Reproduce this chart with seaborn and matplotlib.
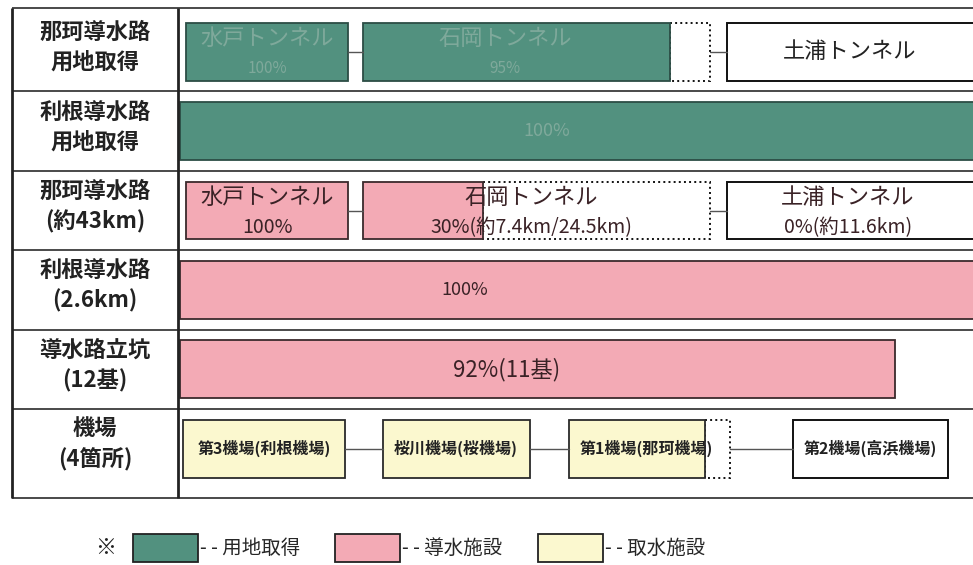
import matplotlib
matplotlib.use("Agg")
import matplotlib.pyplot as plt
from matplotlib.patches import Patch
import seaborn as sns

# row headers (left column)
row_labels = [
    "那珂導水路\n用地取得",
    "利根導水路\n用地取得",
    "那珂導水路\n(約43km)",
    "利根導水路\n(2.6km)",
    "導水路立坑\n(12基)",
    "機場\n(4箇所)",
]

# segments of the schematic (x in schematic units along each row)
seg_row = [0, 0, 0, 1, 2, 2, 2, 3, 4, 5, 5, 5, 5]
seg_name = ["水戸トンネル", "石岡トンネル", "土浦トンネル", "",
            "水戸トンネル", "石岡トンネル", "土浦トンネル", "", "",
            "第3機場(利根機場)", "桜川機場(桜機場)", "第1機場(那珂機場)", "第2機場(高浜機場)"]
seg_note = ["100%", "95%", "", "100%",
            "100%", "30%(約7.4km/24.5km)", "0%(約11.6km)", "100%", "92%(11基)",
            "", "", "", ""]
seg_start = [8, 185, 549, 2, 8, 185, 549, 2, 2, 5, 205, 391, 615]
seg_end = [170, 532, 800, 800, 170, 532, 800, 800, 717, 167, 352, 552, 770]
seg_done = [170, 492, 549, 800, 170, 305, 549, 800, 717, 167, 352, 527, 615]
seg_kind = ["用地取得"] * 4 + ["導水施設"] * 5 + ["取水施設"] * 4

# where each label sits along the row
label_x = [89, 327, 672, 369, 89, 353, 670, 287, 329, 86, 278, 468, 692]

kinds = ["用地取得", "導水施設", "取水施設"]
fill_colors = {"用地取得": "#52917f", "導水施設": "#f3aab5", "取水施設": "#fbf8cf"}
edge_colors = {"用地取得": "#2c4d45", "導水施設": "#3a2a2c", "取水施設": "#2a2a2a"}

sns.set_theme(style="white")
plt.rcParams["font.family"] = ["Noto Sans CJK JP", "DejaVu Sans"]

fig = plt.figure(figsize=(9.73, 5.65), dpi=100)
ax = fig.add_axes([178 / 973, (565 - 498) / 565, (973 - 178) / 973, 490 / 565])
ax.set_xlim(0, 795)
ax.set_ylim(5.62, -0.55)
ax.axis("off")

bar_h = 0.73
ink = "#222222"

# table lines
sep_y = [-0.55, 0.5, 1.5, 2.5, 3.5, 4.5, 5.62]
ax.hlines(sep_y, -166, 795, color="#4a4a4a", lw=1.4, clip_on=False)
ax.vlines([-166, 0], -0.55, 5.62, color=ink, lw=2, clip_on=False)

for i, lab in enumerate(row_labels):
    ax.text(-83, i - 0.05, lab, ha="center", va="center", fontsize=16,
            fontweight="bold", color=ink, linespacing=1.37, clip_on=False)

# connectors between consecutive segments in the same row
for i in range(len(seg_row) - 1):
    if seg_row[i] == seg_row[i + 1]:
        ax.plot([seg_end[i], seg_start[i + 1]], [seg_row[i], seg_row[i]],
                color="#555555", lw=1)

for i in range(len(seg_row)):
    r, k = seg_row[i], seg_kind[i]
    s, e, d = seg_start[i], seg_end[i], seg_done[i]
    started = d > s
    if e > d:
        ax.barh(r, e - d, left=d, height=bar_h, color="white", edgecolor="#111111",
                lw=1.4, linestyle=":" if started else "-")
    if started:
        ax.barh(r, d - s, left=s, height=bar_h, color=fill_colors[k],
                edgecolor=edge_colors[k], lw=1.3)

    if k == "用地取得" and started:
        tcol = "#7fa99b"
    elif k == "導水施設":
        tcol = "#3a2226"
    else:
        tcol = ink

    name, note = seg_name[i], seg_note[i]
    x = label_x[i]
    if name and note:
        note_size = 11 if r == 0 else 14
        ax.text(x, r - 0.17, name, ha="center", va="center", fontsize=16, color=tcol)
        ax.text(x, r + 0.21, note, ha="center", va="center", fontsize=note_size, color=tcol)
    elif name:
        if k == "取水施設":
            ax.text(x, r, name, ha="center", va="center", fontsize=11.5, color=tcol,
                    fontweight="bold")
        else:
            ax.text(x, r, name, ha="center", va="center", fontsize=16, color=tcol)
    elif note:
        ax.text(x, r, note, ha="center", va="center",
                fontsize=16 if "基" in note else 13, color=tcol)

# legend
handles = [Patch(facecolor=fill_colors[k], edgecolor=ink, lw=1.3) for k in kinds]
fig.legend(handles, ["- - " + k for k in kinds], loc="center left",
           bbox_to_anchor=(133 / 973, 0.03), ncol=3, frameon=False, fontsize=14,
           borderpad=0, borderaxespad=0,
           handlelength=3.35, handleheight=1.8, handletextpad=0.1, columnspacing=1.8)
fig.text(106 / 973, 0.03, "※", ha="center", va="center", fontsize=15, color=ink)

fig.savefig("out.png", dpi=100)
